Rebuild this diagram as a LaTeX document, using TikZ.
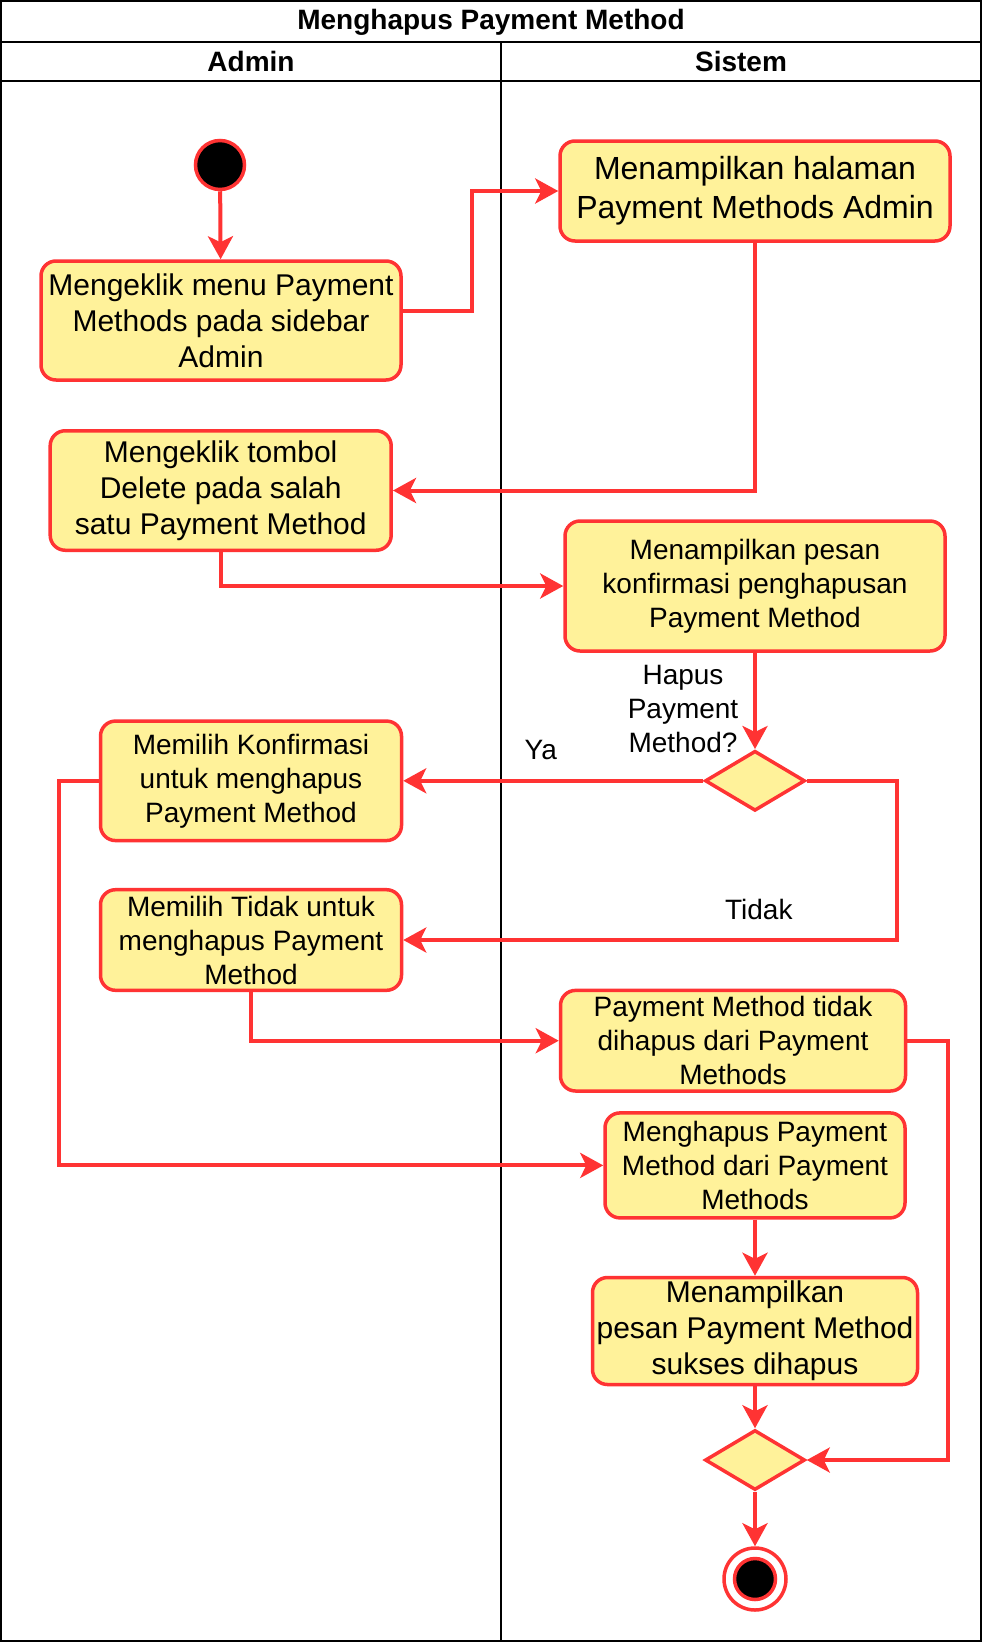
\documentclass[tikz,border=0pt]{standalone}
\usepackage{fontspec}
\setmainfont{Liberation Sans}
\usetikzlibrary{arrows.meta,shapes.geometric}
\definecolor{rd}{HTML}{FF3333}
\definecolor{yl}{HTML}{FFF29A}
\begin{document}
\begin{tikzpicture}[x=1pt,y=-1pt,
  act/.style={draw=rd, fill=yl, line width=3.5pt, rounded corners=15pt, align=center, inner sep=0pt},
  fsA/.style={font=\fontsize{28}{34}\selectfont},
  fsB/.style={font=\fontsize{30}{36}\selectfont},
  fsC/.style={font=\fontsize{32}{39}\selectfont},
  dec/.style={diamond, draw=rd, fill=yl, line width=3.5pt, minimum width=100pt, minimum height=60pt, inner sep=0pt},
  conn/.style={draw=rd, line width=4pt, -{Stealth[length=23pt,width=25pt,inset=6pt]}},
  lbl/.style={align=center, inner sep=0pt, font=\fontsize{28}{34}\selectfont},
  frame/.style={draw=black, line width=2pt}
]
\useasboundingbox (0,0) rectangle (982,1644);
% swimlane frame
\draw[frame] (1,1) rectangle (981,1641);
\draw[frame] (1,41.5) -- (981,41.5);
\draw[frame] (1,81) -- (981,81);
\draw[frame] (501,41.5) -- (501,1641);
\node[font=\bfseries\fontsize{28}{34}\selectfont] (title) at (491,22) {Menghapus Payment Method};
\node[font=\bfseries\fontsize{28}{34}\selectfont] (lnA) at (251,61) {Admin};
\node[font=\bfseries\fontsize{28}{34}\selectfont] (lnS) at (741,61) {Sistem};

% nodes
\node[circle, draw=rd, fill=black, line width=3.5pt, minimum size=49pt, inner sep=0pt] (start) at (220,165) {};
\node[act, fsB, minimum width=360pt, minimum height=119pt] (b1) at (221,320.5) {Mengeklik menu Payment\\Methods pada sidebar\\Admin};
\node[act, fsC, minimum width=390pt, minimum height=100pt] (b2) at (755,191) {Menampilkan halaman\\Payment Methods Admin};
\node[act, fsB, minimum width=341pt, minimum height=119.5pt] (b3) at (220.7,490.5) {Mengeklik tombol\\Delete pada salah\\satu Payment Method};
\node[act, fsA, minimum width=380pt, minimum height=130pt] (b4) at (755,586) {Menampilkan pesan\\konfirmasi penghapusan\\Payment Method};
\node[dec] (d1) at (755,780.8) {};
\node[act, fsA, minimum width=301pt, minimum height=119.5pt] (b5) at (251,780.8) {Memilih Konfirmasi\\untuk menghapus\\Payment Method};
\node[act, fsA, minimum width=301pt, minimum height=100.6pt] (b6) at (251,940) {Memilih Tidak untuk\\menghapus Payment\\Method};
\node[act, fsA, minimum width=345pt, minimum height=100.6pt] (b7) at (733,1040.7) {Payment Method tidak\\dihapus dari Payment\\Methods};
\node[act, fsA, minimum width=300pt, minimum height=105pt] (b8) at (755,1165.4) {Menghapus Payment\\Method dari Payment\\Methods};
\node[act, fsB, minimum width=325pt, minimum height=107pt] (b9) at (755,1331) {Menampilkan\\pesan Payment Method\\sukses dihapus};
\node[dec] (d2) at (755,1460) {};
\node[circle, draw=rd, fill=white, line width=3.5pt, minimum size=62pt, inner sep=0pt] (end) at (755,1579) {};
\node[circle, draw=rd, fill=black, line width=3.5pt, minimum size=41pt, inner sep=0pt] (endin) at (end.center) {};

% labels
\node[lbl] (q) at (683,708.5) {Hapus\\Payment\\Method?};
\node[lbl] (ya) at (540.8,750.4) {Ya};
\node[lbl] (tidak) at (758.8,909.7) {Tidak};

% connectors
\draw[conn] (start) -- (b1);
\draw[conn] ([yshift=10pt]b1.east) -- ++(69,0) |- (b2.west);
\draw[conn] (b2.south) |- (b3.east);
\draw[conn] (b3.south) |- (b4.west);
\draw[conn] (b4.south) -- (d1.north);
\draw[conn] (d1.west) -- (b5.east);
\draw[conn] (d1.east) -- ++(90.4,0) |- (b6.east);
\draw[conn] (b6.south) |- (b7.west);
\draw[conn] (b5.west) -- ++(-39.8,0) |- (b8.west);
\draw[conn] (b8.south) -- (b9.north);
\draw[conn] (b9.south) -- (d2.north);
\draw[conn] (b7.east) -- ++(40.8,0) |- (d2.east);
\draw[conn] (d2.south) -- (end.north);
\end{tikzpicture}
\end{document}
